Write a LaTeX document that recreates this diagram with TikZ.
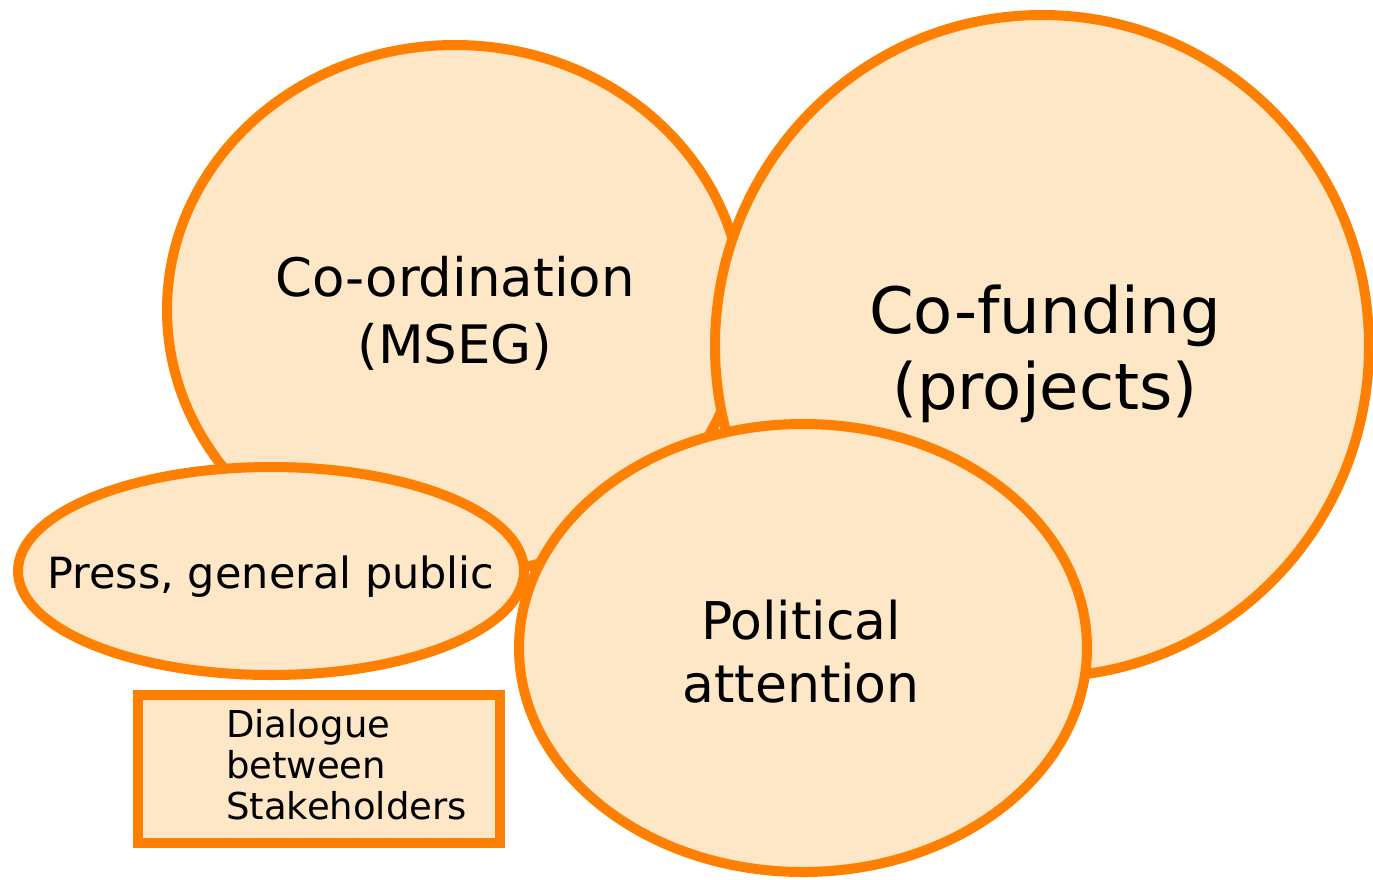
\documentclass[tikz,border=0pt]{standalone}
\usepackage{fontspec}
\setmainfont{DejaVu Sans}
\usetikzlibrary{shapes.geometric,positioning}
\definecolor{peach}{HTML}{FDE7C6}
\definecolor{orng}{HTML}{FF8000}
\def\lw{10pt}
\def\fs#1#2{\fontsize{#1}{#2}\selectfont}

\tikzset{
  blob/.style={ellipse, draw=orng, fill=peach, line width=\lw, inner sep=0pt},
  box/.style={rectangle, draw=orng, fill=peach, line width=\lw, inner sep=0pt},
  lbl/.style={inner sep=0pt, align=center}
}

\begin{document}
\begin{tikzpicture}[x=1pt,y=-1pt]
\useasboundingbox (0,0) rectangle (1373,879);

\node[blob, minimum width=576pt, minimum height=530pt] (coord) at (455,310) {};
\node[blob, minimum width=654pt, minimum height=662pt] (fund) at (1042,346) {};
\node[blob, minimum width=506pt, minimum height=208pt] (press) at (271,571) {};
\node[blob, minimum width=568pt, minimum height=448pt] (polit) at (803,648) {};

\node[lbl, font=\fs{53}{67}] (coordtxt) at ([yshift=-3pt]coord) {Co-ordination\\(MSEG)};
\node[lbl, font=\fs{64}{76}] (fundtxt) at ([xshift=3pt,yshift=-8pt]fund) {Co-funding\\(projects)};
\node[lbl, font=\fs{43}{50}] (presstxt) at ([yshift=-6pt]press) {Press, general public};
\node[lbl, font=\fs{52}{63}] (polittxt) at ([xshift=-2pt,yshift=-4pt]polit) {Political\\attention};

\node[box, minimum width=362pt, minimum height=148pt] (dlg) at (319,769) {};
\node[anchor=west, align=left, inner sep=0pt, font=\fs{37}{41}] (dlgtxt)
  at ([xshift=93pt,yshift=4pt]dlg.west) {Dialogue\\between\\Stakeholders};
\end{tikzpicture}
\end{document}
